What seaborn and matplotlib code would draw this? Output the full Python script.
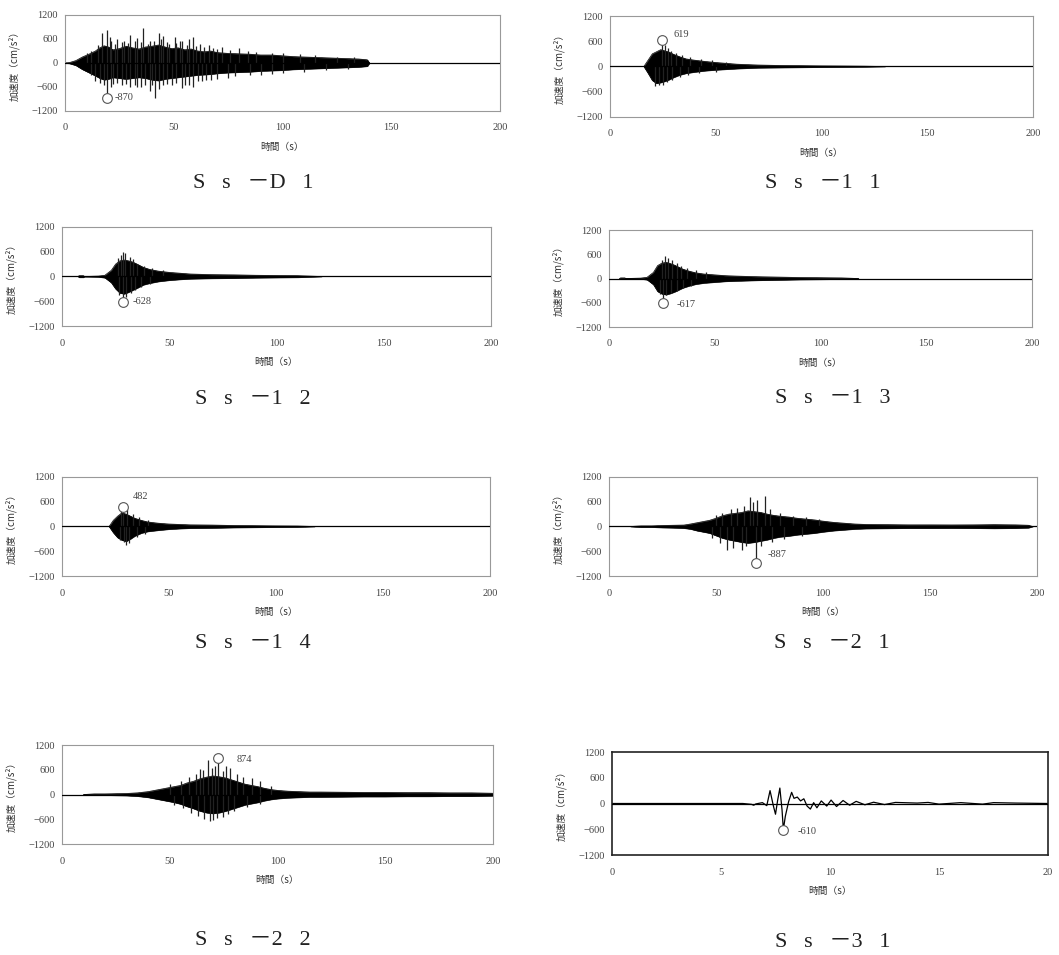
import numpy as np
import matplotlib
matplotlib.use("Agg")
import matplotlib.pyplot as plt
import seaborn as sns

sns.set_style("white")
plt.rcParams['font.family'] = ['Liberation Serif', 'Noto Sans CJK JP', 'DejaVu Sans']

# ---------------- data ----------------
titles = ["S\u2002 s\u2002 －D\u2002 1", "S\u2002 s\u2002 －1\u2002 1", "S\u2002 s\u2002 －1\u2002 2",
          "S\u2002 s\u2002 －1\u2002 3", "S\u2002 s\u2002 －1\u2002 4", "S\u2002 s\u2002 －2\u2002 1",
          "S\u2002 s\u2002 －2\u2002 2", "S\u2002 s\u2002 －3\u2002 1"]
yticks = [-1200, -600, 0, 600, 1200]
xticks_long = [0, 50, 100, 150, 200]
xticks_short = [0, 5, 10, 15, 20]

# Ss-D1 envelope
d1_t = [0, 2, 5, 8, 11, 14, 16, 18, 20, 22, 25, 28, 31, 34, 37, 40, 43, 46, 49, 52, 55, 58, 61, 64, 67, 70,
        75, 80, 85, 90, 95, 100, 105, 110, 115, 120, 125, 130, 135, 139, 140]
d1_up = [0, 10, 60, 150, 220, 300, 380, 430, 400, 330, 360, 420, 380, 350, 400, 420, 450, 400, 360, 380, 330,
         350, 300, 280, 300, 260, 240, 230, 220, 200, 200, 180, 160, 150, 140, 130, 120, 110, 100, 80, 0]
d1_lo = [0, -10, -60, -160, -240, -320, -380, -420, -400, -360, -380, -400, -380, -360, -380, -420, -440, -400,
         -380, -360, -340, -320, -300, -290, -280, -260, -240, -230, -220, -200, -190, -180, -160, -150, -140,
         -130, -120, -110, -100, -80, 0]
d1_sp_t = [17, 19.2, 20.5, 24, 27, 30, 33, 36, 39, 43, 45, 50.5, 54, 59, 62, 66, 72, 80,
           10, 12, 15, 21, 23, 26, 29, 32, 35, 38, 41, 44, 47, 48, 51, 53, 56, 57, 60, 64, 68, 70, 76, 84, 88,
           95, 100, 108, 115, 125, 133,
           14, 19.2, 22, 26, 30, 35, 39, 41.4, 45, 49, 53.6, 59, 63, 67, 75, 90,
           12, 16, 18, 21, 24, 28, 32, 33, 37, 40, 43, 47, 51, 55, 57, 61, 65, 70, 78, 85, 95, 100, 110, 120, 130]
d1_sp_v = [740, 820, 650, 600, 560, 690, 620, 865, 560, 740, 680, 660, 560, 660, 480, 450, 400, 380,
           250, 300, 450, 550, 480, 520, 500, 560, 520, 480, 550, 600, 520, 480, 500, 560, 450, 600, 420, 400,
           380, 350, 330, 300, 280, 260, 250, 230, 200, 160, 140,
           -450, -870, -520, -560, -600, -600, -700, -880, -560, -550, -620, -600, -450, -420, -380, -300,
           -300, -500, -550, -600, -500, -520, -540, -600, -560, -560, -650, -520, -500, -540, -560, -450, -420,
           -400, -330, -300, -280, -250, -220, -180, -150]

# Ss-11
s11_t = [16, 18, 20, 22, 24, 26, 28, 30, 33, 36, 40, 45, 50, 55, 60, 65, 70, 80, 90, 100, 110, 120, 130]
s11_up = [0, 150, 300, 350, 400, 370, 340, 290, 230, 180, 150, 120, 95, 75, 55, 45, 35, 25, 20, 15, 12, 8, 0]
s11_lo = [0, -160, -330, -400, -380, -350, -310, -260, -200, -160, -130, -100, -80, -65, -50, -40, -30, -25,
          -20, -15, -12, -8, 0]
s11_sp_t = [24.4, 26, 27.5, 29, 31, 34, 38, 43, 48, 55, 21.5, 23, 25, 27, 29.5, 33, 37, 42, 50]
s11_sp_v = [619, 520, 430, 380, 330, 280, 220, 180, 150, 110, -460, -440, -430, -380, -320, -260, -200, -160,
            -120]

# Ss-12
s12_t = [7.5, 8, 10, 10.5, 17, 20, 23, 25, 27, 29, 31, 33, 35, 38, 41, 45, 50, 55, 60, 70, 80, 90, 100, 110, 121]
s12_up = [0, 20, 20, 0, 10, 30, 150, 300, 380, 400, 380, 350, 300, 220, 170, 130, 100, 80, 60, 45, 40, 30, 25,
          20, 0]
s12_lo = [0, -20, -20, 0, -10, -30, -150, -300, -400, -420, -380, -330, -280, -200, -160, -120, -90, -70, -55,
          -45, -40, -30, -25, -20, 0]
s12_sp_t = [26, 27.5, 28.5, 29.5, 31.5, 33, 35, 38, 42, 47, 26.5, 28.6, 30, 32, 34, 37, 41]
s12_sp_v = [450, 520, 600, 560, 470, 420, 300, 260, 200, 150, -450, -628, -500, -400, -330, -250, -190]

# Ss-13
s13_t = [5, 5.5, 7.5, 8, 15, 18, 21, 23, 25, 27, 29, 31, 33, 35, 38, 41, 45, 50, 55, 60, 70, 80, 90, 100, 110, 118]
s13_up = [0, 15, 15, 0, 10, 30, 150, 320, 380, 400, 370, 330, 280, 230, 180, 140, 110, 90, 70, 60, 45, 35, 25,
          20, 15, 0]
s13_lo = [0, -15, -15, 0, -10, -30, -150, -320, -380, -400, -370, -330, -280, -230, -180, -140, -110, -90, -70,
          -60, -45, -35, -25, -20, -15, 0]
s13_sp_t = [25, 26.5, 28, 30, 32, 34, 37, 41, 46, 24, 25.7, 27, 29.5, 32, 35, 39]
s13_sp_v = [450, 560, 500, 470, 380, 300, 250, 200, 150, -380, -617, -420, -350, -300, -240, -180]

# Ss-14
s14_t = [22, 24, 26, 28, 30, 32, 34, 37, 40, 45, 50, 55, 60, 70, 80, 90, 100, 110, 118]
s14_up = [0, 150, 250, 330, 300, 250, 200, 150, 110, 80, 60, 50, 40, 35, 25, 20, 15, 12, 0]
s14_lo = [0, -150, -270, -330, -360, -300, -230, -160, -120, -90, -65, -50, -40, -35, -25, -20, -15, -12, 0]
s14_sp_t = [27.5, 28.6, 30.5, 33, 36, 40, 27, 29, 30, 31.5, 35, 39]
s14_sp_v = [380, 482, 420, 300, 220, 160, -330, -380, -440, -400, -250, -170]

# Ss-21
s21_t = [10, 15, 20, 25, 30, 35, 38, 41, 44, 47, 50, 53, 56, 59, 62, 65, 68, 71, 74, 77, 80, 84, 88, 92, 96,
         100, 105, 110, 115, 120, 130, 140, 150, 160, 170, 180, 190, 196, 198]
s21_up = [0, 15, 15, 25, 30, 35, 60, 90, 120, 150, 200, 260, 300, 320, 340, 380, 360, 340, 300, 270, 250, 230,
          200, 180, 160, 130, 100, 80, 60, 50, 45, 40, 40, 38, 40, 45, 40, 30, 0]
s21_lo = [0, -15, -15, -25, -30, -40, -60, -100, -130, -160, -220, -280, -320, -350, -380, -400, -380, -350,
          -320, -280, -250, -230, -200, -180, -160, -130, -100, -80, -60, -50, -45, -40, -40, -38, -40, -45, -40,
          -30, 0]
s21_sp_t = [50, 53, 57, 60, 63, 65.9, 67.5, 69, 72.9, 75, 80, 86, 92, 98,
            48, 52, 55, 58, 62, 64, 68.8, 71, 76, 82, 90]
s21_sp_v = [280, 330, 420, 450, 500, 710, 600, 640, 740, 420, 330, 260, 220, 170,
            -280, -400, -560, -520, -560, -480, -887, -480, -380, -300, -220]

# Ss-22
s22_t = [10, 15, 20, 25, 30, 35, 40, 43, 46, 49, 52, 55, 58, 61, 64, 67, 70, 73, 76, 79, 82, 85, 88, 91, 94,
         97, 100, 105, 110, 115, 120, 130, 140, 150, 160, 170, 180, 190, 200]
s22_up = [0, 15, 15, 20, 25, 40, 70, 100, 130, 160, 190, 220, 280, 320, 380, 420, 450, 430, 400, 350, 300, 250,
          220, 190, 150, 120, 100, 80, 70, 60, 60, 55, 50, 50, 45, 45, 40, 40, 30]
s22_lo = [0, -15, -15, -20, -25, -40, -70, -100, -130, -160, -190, -230, -290, -340, -400, -440, -460, -440,
          -400, -350, -300, -250, -220, -190, -150, -120, -100, -80, -70, -60, -60, -55, -50, -50, -45, -45,
          -40, -40, -30]
s22_sp_t = [50, 55, 59, 62, 64, 65.5, 67.8, 69.5, 71, 72.4, 74.5, 76, 78, 81, 84, 88, 92, 97,
            52, 56, 60, 63, 66, 68.5, 70, 72, 74.5, 77, 80, 86, 92]
s22_sp_v = [250, 330, 420, 500, 620, 600, 840, 650, 700, 874, 580, 680, 650, 500, 420, 400, 330, 200,
            -260, -330, -450, -520, -600, -640, -620, -580, -550, -480, -400, -300, -220]

# Ss-31 (single trace)
s31_t = [0, 6.0, 6.4, 6.5, 6.6, 6.9, 7.1, 7.25, 7.4, 7.5, 7.6, 7.7, 7.8, 7.86, 7.95, 8.1, 8.24, 8.35, 8.5,
         8.65, 8.8, 8.95, 9.1, 9.25, 9.4, 9.6, 9.85, 10.05, 10.3, 10.6, 10.9, 11.2, 11.6, 12.0, 12.5, 13.0,
         14.0, 14.5, 15.0, 16.0, 17.0, 17.5, 18.5, 20]
s31_v = [0, 0, -20, -40, -10, 20, -50, 300, -50, -250, 80, 360, -150, -610, -300, 40, 260, 120, 150, 60, 110,
         -60, -130, 20, -100, 60, -60, 80, -70, 70, -40, 50, -30, 30, -25, 25, 10, 25, -15, 20, -15, 20, 10, 0]

# peak annotations: (time, value, label, text time, text value)
peaks = [(19.2, -870, "-870", 23, -870),
         (24.4, 619, "619", 30, 760),
         (28.6, -628, "-628", 33, -600),
         (25.7, -617, "-617", 32, -640),
         (28.6, 482, "482", 33, 720),
         (68.8, -887, "-887", 74, -690),
         (72.4, 874, "874", 81, 860),
         (7.86, -610, "-610", 8.5, -660)]

# ---------------- layout (pixel boxes) ----------------
W, H = 1059, 955
boxes = [(65, 15, 500, 111), (610, 16, 1033, 117),
         (62, 227, 491, 326), (609, 230, 1032, 327),
         (62, 477, 490, 576), (609, 477, 1037, 576),
         (62, 745, 493, 844), (612, 752, 1048, 855)]
title_pos = [(253, 183), (823, 183), (253, 399), (833, 398),
             (253, 643), (832, 643), (253, 940), (833, 942)]

env = [(d1_t, d1_up, d1_lo, d1_sp_t, d1_sp_v),
       (s11_t, s11_up, s11_lo, s11_sp_t, s11_sp_v),
       (s12_t, s12_up, s12_lo, s12_sp_t, s12_sp_v),
       (s13_t, s13_up, s13_lo, s13_sp_t, s13_sp_v),
       (s14_t, s14_up, s14_lo, s14_sp_t, s14_sp_v),
       (s21_t, s21_up, s21_lo, s21_sp_t, s21_sp_v),
       (s22_t, s22_up, s22_lo, s22_sp_t, s22_sp_v),
       None]

fig = plt.figure(figsize=(W / 100, H / 100), dpi=100)
cjk = ['Noto Sans CJK JP', 'DejaVu Sans']
serif = ['Liberation Serif', 'DejaVu Serif']

for i, (x0, y0, x1, y1) in enumerate(boxes):
    ax = fig.add_axes([x0 / W, 1 - y1 / H, (x1 - x0) / W, (y1 - y0) / H])
    wpx, hpx = x1 - x0, y1 - y0
    if env[i] is not None:
        t, up, lo, spt, spv = env[i]
        ax.fill_between(t, lo, up, color='black', lw=0.4, edgecolor='black')
        sns.lineplot(x=t, y=up, ax=ax, color='black', lw=0.5)
        sns.lineplot(x=t, y=lo, ax=ax, color='black', lw=0.5)
        ax.vlines(spt, 0, spv, color='#222222', lw=0.9)
        ax.set_xlim(0, 200)
        ax.set_xticks(xticks_long)
    else:
        sns.lineplot(x=s31_t, y=s31_v, ax=ax, color='black', lw=0.9)
        ax.set_xlim(0, 20)
        ax.set_xticks(xticks_short)
    ax.axhline(0, color='black', lw=0.9, zorder=3)
    ax.set_ylim(-1200, 1200)
    ax.set_yticks(yticks)
    pt, pv, lab, tt, tv = peaks[i]
    ax.plot([pt], [pv], marker='o', ms=7, mfc='white', mec='#555555', mew=0.8, zorder=4)
    ax.text(tt, tv, lab, fontsize=7.5, color='#444444', family=serif, va='center', ha='left')

    for sp in ax.spines.values():
        if i == 7:
            sp.set_color('#222222'); sp.set_linewidth(1.2)
        else:
            sp.set_color('#999999'); sp.set_linewidth(0.8)
    ax.tick_params(axis='both', direction='in', length=3, width=0.8, color='#555555',
                   labelsize=7.5, labelcolor='#444444')
    ax.tick_params(axis='x', pad=9)
    ax.tick_params(axis='y', pad=5)
    for lbl in ax.get_xticklabels() + ax.get_yticklabels():
        lbl.set_family(serif)
    ax.set_xlabel("時間（s）", fontsize=7, family=cjk, color='#333333')
    ax.set_ylabel("加速度（cm/s²）", fontsize=7, family=cjk, color='#333333')
    ax.xaxis.set_label_coords(0.5, -31 / hpx)
    ax.yaxis.set_label_coords(-45 / wpx, 0.5)

    tx, ty = title_pos[i]
    fig.text(tx / W, 1 - ty / H, titles[i], fontsize=16, family=['Liberation Serif', 'Noto Sans CJK JP'],
             ha='center', va='center', color='#222222')

fig.savefig("out.png", dpi=100, facecolor='white')
